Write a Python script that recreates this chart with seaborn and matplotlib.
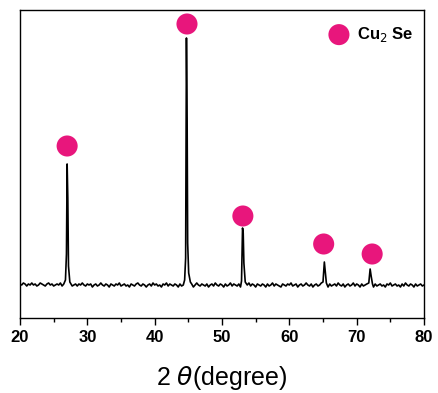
import numpy as np
import pandas as pd
import matplotlib.pyplot as plt
import matplotlib.font_manager as fm
import seaborn as sns

# baseline readings (2theta every 0.25 deg, 20 to 80)
base_theta = np.arange(20, 80.001, 0.25)
base_int = [34, 33, 35, 34, 32, 34, 33, 35, 33, 34, 32, 33, 35, 34, 33, 32,
            34, 35, 33, 34, 32, 33, 34, 33, 35, 32, 34, 33, 33, 35, 34, 32,
            33, 34, 32, 34, 33, 35, 33, 32, 34, 33, 34, 31, 33, 34, 32, 33,
            35, 33, 32, 34, 33, 31, 34, 33, 32, 34, 33, 35, 32, 33, 34, 32,
            33, 31, 34, 33, 32, 34, 35, 33, 32, 34, 33, 31, 33, 34, 32, 35,
            33, 34, 32, 33, 31, 34, 33, 35, 32, 34, 33, 32, 34, 33, 31, 34,
            32, 33, 35, 34, 32, 33, 34, 31, 33, 35, 33, 32, 34, 33, 32, 34,
            31, 33, 34, 32, 35, 33, 32, 34, 33, 31, 34, 32, 33, 35, 32, 34,
            33, 32, 34, 31, 33, 34, 32, 33, 35, 32, 34, 33, 31, 34, 33, 32,
            34, 33, 31, 34, 32, 33, 35, 32, 34, 33, 32, 31, 34, 33, 32, 34,
            33, 35, 32, 33, 34, 31, 33, 34, 32, 33, 35, 33, 32, 34, 31, 33,
            34, 32, 33, 35, 32, 34, 33, 31, 34, 32, 33, 34, 32, 35, 33, 32,
            34, 31, 33, 34, 32, 33, 35, 32, 34, 33, 31, 34, 32, 33, 34, 32,
            33, 35, 31, 34, 32, 33, 34, 32, 33, 31, 34, 33, 35, 32, 33, 34,
            32, 33, 31, 34, 32, 35, 33, 32, 34, 33, 31, 34, 32, 33, 34, 32,
            33]

# peak profiles
peak_theta = [26.75, 26.9, 27.0, 27.1, 27.2, 27.4,
              44.45, 44.6, 44.72, 44.82, 44.9, 45.05, 45.3,
              52.9, 53.05, 53.15, 53.25, 53.45,
              65.0, 65.2, 65.35, 65.5,
              71.8, 72.0, 72.15, 72.35]
peak_int = [38, 64, 154, 120, 52, 36,
            38, 60, 280, 200, 75, 45, 36,
            37, 90, 85, 55, 36,
            36, 56, 45, 35,
            35, 49, 42, 34]

# Cu2Se phase markers
mark_theta = [27.0, 44.8, 53.1, 65.1, 72.3]
mark_int = [172, 294, 102, 74, 64]

peak_ranges = [(26.6, 27.5), (44.3, 45.4), (52.8, 53.5), (64.9, 65.6), (71.7, 72.4)]
keep = [not any(a <= t <= b for a, b in peak_ranges) for t in base_theta]
df = pd.DataFrame({
    'theta': list(base_theta[keep]) + peak_theta,
    'intensity': list(np.array(base_int)[keep]) + peak_int,
}).sort_values('theta')

# keep the condensed Liberation variant from being picked for bold text
fm.fontManager.ttflist = [f for f in fm.fontManager.ttflist
                          if 'Narrow' not in f.fname and 'Narrow' not in f.name]

sns.set_style('ticks')
plt.rcParams['font.family'] = ['Liberation Sans', 'DejaVu Sans']
plt.rcParams.update({'text.color': 'black', 'axes.labelcolor': 'black',
                     'xtick.color': 'black', 'axes.edgecolor': 'black'})

fig = plt.figure(figsize=(4.38, 3.93), dpi=100)
ax = fig.add_axes([20 / 438, 75 / 393, 404 / 438, 308 / 393])

sns.lineplot(data=df, x='theta', y='intensity', color='black', lw=1.2, ax=ax)
sns.scatterplot(x=mark_theta, y=mark_int, color='#E8167C', s=230,
                edgecolor='none', ax=ax, label='Cu$_2$ Se', zorder=5)

ax.set_xlim(20, 80)
ax.set_ylim(0, 308)
ax.set_xticks(range(20, 81, 10))
ax.set_xticks(range(25, 80, 10), minor=True)
ax.set_yticks([])
ax.tick_params(axis='x', which='major', length=5, width=1, labelsize=12)
ax.tick_params(axis='x', which='minor', length=3, width=1)
for lbl in ax.get_xticklabels():
    lbl.set_fontweight('bold')
for s in ax.spines.values():
    s.set_linewidth(1)
    s.set_visible(True)
ax.set_ylabel('')
ax.set_xlabel(r'2 $\theta$(degree)', fontsize=18, labelpad=14)

leg = ax.legend(loc='upper right', bbox_to_anchor=(1.012, 1.0), frameon=False,
                handletextpad=0.1, prop={'weight': 'bold', 'size': 12},
                borderaxespad=0.5, markerscale=1.0)

fig.savefig('out.png', dpi=100)
